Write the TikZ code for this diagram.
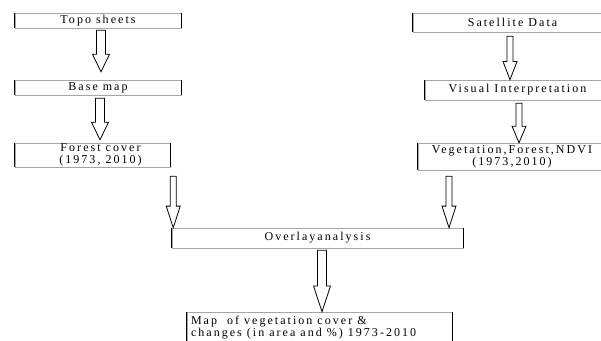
\documentclass[tikz,border=0pt]{standalone}
\usepackage{fontspec}
\setmainfont{Liberation Serif}[LetterSpace=17]
\usetikzlibrary{calc}
\newcommand\wsp{\hspace{5pt}}
\begin{document}
\begin{tikzpicture}[x=1pt,y=1pt,
  box/.style={draw=gray!70, line width=0.5pt, inner sep=0pt,
    font=\fontsize{12}{12}\selectfont, text=black, align=center},
  side/.style={draw=black, line width=1.3pt},
  blockarrow/.style 2 args={draw=black, line width=0.8pt, fill=white, line join=miter,
    to path={let \p1=(\tikztostart), \p2=(\tikztotarget), \n1={0.42*(\y1-\y2)} in
      (\x1-#1,\y1) -- (\x1+#1,\y1) -- (\x1+#1,\y2+\n1) -- (\x1+#2,\y2+\n1) -- (\x1,\y2)
      -- (\x1-#2,\y2+\n1) -- (\x1-#1,\y2+\n1) -- cycle}},
  bigarrow/.style={blockarrow={4.5pt}{8.5pt}},
  smallarrow/.style={blockarrow={3pt}{7pt}}]
\useasboundingbox (0,0) rectangle (601,340);
% left column
\node[box, minimum width=166pt, minimum height=15pt] (topo) at (98,319.5) {Topo\wsp sheets};
\node[box, minimum width=166pt, minimum height=15pt] (base) at (98,252.5) {Base\wsp map};
\node[box, minimum width=155pt, minimum height=24pt] (forest) at (92.5,185) {\hspace*{16pt}Forest\wsp cover\\\hspace*{16pt}(1973,\wsp 2010)};
% right column
\node[box, minimum width=199pt, minimum height=19pt] (sat) at (512.5,317.5) {Satellite\wsp Data};
\node[box, minimum width=185pt, minimum height=20pt] (visual) at (517.5,250) {Visual\wsp Interpretation};
\node[box, minimum width=188pt, minimum height=27pt] (veg) at (512,183.5) {Vegetation,Forest,NDVI\\(1973,2010)};
% bottom
\node[box, minimum width=265pt, minimum height=31pt, text width=257pt, align=left] (map) at (319.5,12.5)
  {Map\wsp\wsp of\wsp vegetation\wsp cover\wsp \&\\changes\wsp (in\wsp area\wsp and\wsp \%)\wsp 1973-2010};
\node[box, minimum width=291pt, minimum height=20pt] (overlay) at (317.5,102) {Overlayanalysis};
% thick side edges of the boxes
\foreach \n in {topo,base,forest,sat,visual,veg,overlay,map}
  \draw[side] (\n.north west) -- (\n.south west) (\n.north east) -- (\n.south east);
% arrows
\draw[bigarrow] ($(topo.south)+(3,-2)$) to ($(base.north)+(3,8)$);
\draw[bigarrow] ($(base.south)+(2,-3)$) to ($(forest.north)+(7.5,3)$);
\draw[smallarrow] ($(sat.south)+(-2.5,-4)$) to ($(visual.north)+(-7.5,0)$);
\draw[smallarrow] ($(visual.south)+(1.5,-3)$) to ($(veg.north)+(7,0)$);
\draw[smallarrow] ($(forest.south east)+(3,-9)$) to ($(overlay.north west)+(1,0)$);
\draw[smallarrow] ($(veg.south)+(-63,-6)$) to ($(overlay.north east)+(-14,0)$);
\draw[bigarrow] ($(overlay.south)+(4.5,-2)$) to ($(map.north)+(2.5,0)$);
\end{tikzpicture}
\end{document}
